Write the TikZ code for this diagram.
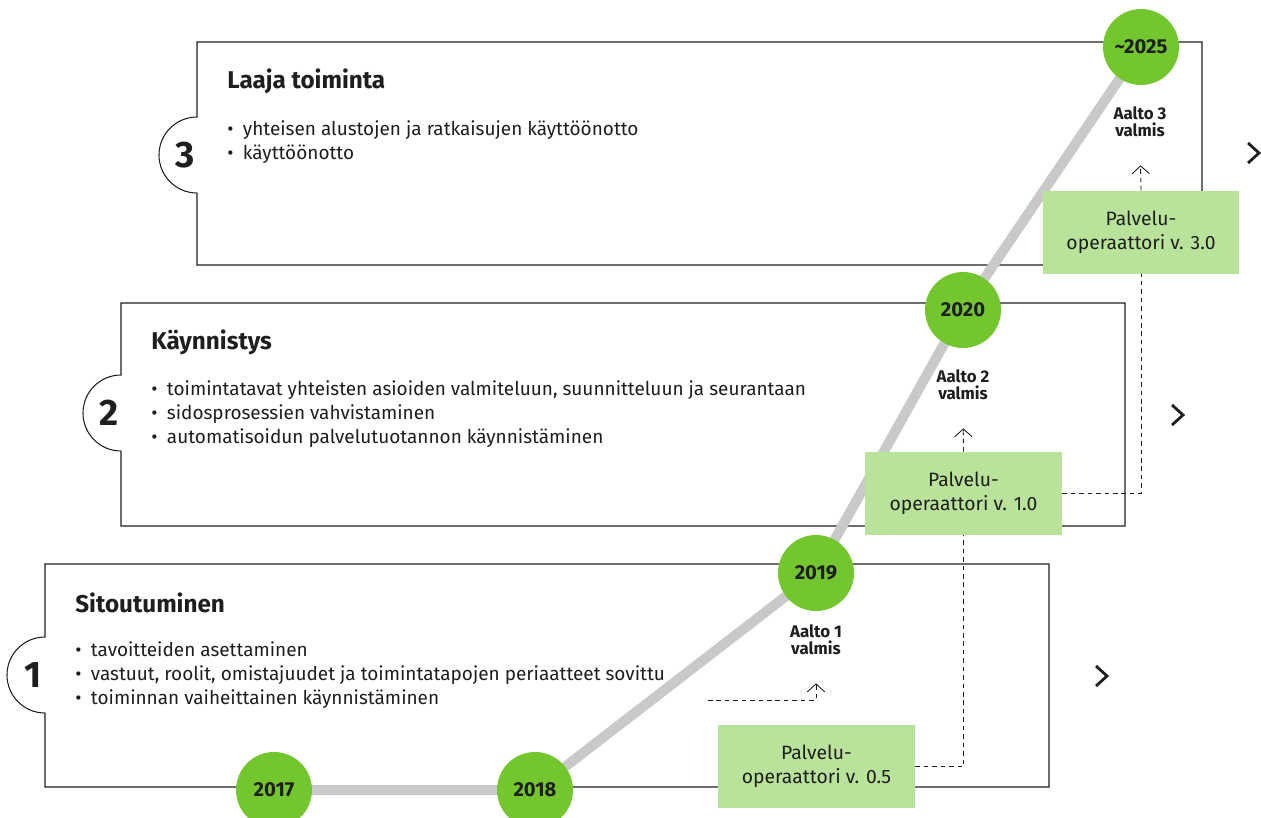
\documentclass[tikz,border=0pt]{standalone}
\usepackage{fontspec}
\setmainfont{Fira Sans}
\usepackage{tikz}
\usetikzlibrary{arrows.meta}
\definecolor{leaf}{HTML}{74C62F}
\definecolor{mint}{HTML}{B9E39A}
\definecolor{road}{HTML}{C9C9C9}
\definecolor{ink}{HTML}{1E1E1E}
\pgfdeclarelayer{front}
\pgfsetlayers{main,front}

\begin{document}
\begin{tikzpicture}[x=0.02cm, y=-0.02cm,
        year/.style = {circle, fill = leaf, minimum size = 1.52cm, inner sep = 0pt, text = ink, font = \fontsize{11.5}{12}\selectfont\bfseries},
        wave/.style = {align = center, text = ink, font = \fontsize{9.6}{9.8}\selectfont\bfseries},
        oper/.style = {fill = mint, minimum width = 3.94cm, minimum height = 1.66cm, inner sep = 0pt, align = center, text = ink, font = \fontsize{11}{14}\selectfont},
        head/.style = {anchor = west, inner sep = 0pt, text = ink, font = \fontsize{13.8}{15}\selectfont\bfseries},
        list/.style = {anchor = west, inner sep = 0pt, align = left, text = ink, font = \fontsize{10.8}{13.7}\selectfont},
        num/.style = {text = ink, font = \fontsize{21}{21}\selectfont\bfseries},
        panel/.style = {draw = ink, line width = 0.6pt},
        chev/.style = {draw = ink, line width = 1.6pt},
        link/.style = {draw = ink, line width = 0.5pt, dash pattern = on 2.6pt off 2.2pt},
        tip/.style = {-{Straight Barb[length = 4.5pt, width = 10pt]}, shorten > = 0.44cm}]
        \useasboundingbox (0, 0) rectangle (1261, 818);

        \draw [panel] (197, 193) -- (197, 265) -- (1202, 265) -- (1202, 42) -- (197, 42) -- (197, 117) arc [start angle = 270, end angle = 90, radius = 38];
        \draw [panel] (121, 451) -- (121, 526) -- (1125, 526) -- (1125, 303) -- (121, 303) -- (121, 375) arc [start angle = 270, end angle = 90, radius = 38];
        \draw [panel] (45, 713) -- (45, 787) -- (1049, 787) -- (1049, 564) -- (45, 564) -- (45, 637) arc [start angle = 270, end angle = 90, radius = 38];

        \node (n3) at (185, 155) [num] {3};
        \node (n2) at (109, 413) [num] {2};
        \node (n1) at (33, 675) [num] {1};

        \node (h3) at (227, 81) [head] {Laaja toiminta};
        \node (h2) at (151, 342) [head] {Käynnistys};
        \node (h1) at (75, 603) [head] {Sitoutuminen};

        \node (l3) at (227, 142) [list] {•\enspace yhteisen alustojen ja ratkaisujen käyttöönotto\\•\enspace käyttöönotto};
        \node (l2) at (151, 414) [list] {•\enspace toimintatavat yhteisten asioiden valmiteluun, suunnitteluun ja seurantaan\\•\enspace sidosprosessien vahvistaminen\\•\enspace automatisoidun palvelutuotannon käynnistäminen};
        \node (l1) at (75, 675) [list] {•\enspace tavoitteiden asettaminen\\•\enspace vastuut, roolit, omistajuudet ja toimintatapojen periaatteet sovittu\\•\enspace toiminnan vaiheittainen käynnistäminen};

        \draw [chev] (1248, 143) -- (1259, 153) -- (1248, 163);
        \draw [chev] (1172, 405) -- (1183, 415) -- (1172, 425);
        \draw [chev] (1096, 666) -- (1107, 676) -- (1096, 686);

        \begin{pgfonlayer}{front}
        \node (y17) at (274, 790) [year] {2017};
        \node (y18) at (535, 790) [year] {2018};
        \node (y19) at (816, 573) [year] {2019};
        \node (y20) at (963, 310) [year] {2020};
        \node (y25) at (1141, 47) [year] {\char`~2025};
        \node (po05) at (816.5, 766.5) [oper] {Palvelu-\\operaattori v. 0.5};
        \node (po10) at (963.5, 493.5) [oper] {Palvelu-\\operaattori v. 1.0};
        \node (po30) at (1141, 232.5) [oper] {Palvelu-\\operaattori v. 3.0};
        \end{pgfonlayer}

        \draw [draw = road, line width = 5.7pt] (y17.center) -- (y18.center) -- (y19.center) -- (y20.center) -- (y25.center);

        \node (a1) at (816, 640) [wave] {Aalto 1\\valmis};
        \node (a2) at (963, 385) [wave] {Aalto 2\\valmis};
        \node (a3) at (1140, 122) [wave] {Aalto 3\\valmis};

        \coordinate (c1) at (708, 700);
        \draw [link, tip] (c1) -| (a1.south);
        \draw [link] (po05.east) -| (po10.south);
        \draw [link, tip] (po10.north) -- (a2.south);
        \draw [link] (po10.east) -| (po30.south);
        \draw [link, tip] (po30.north) -- (a3.south);
    \end{tikzpicture}
\end{document}
